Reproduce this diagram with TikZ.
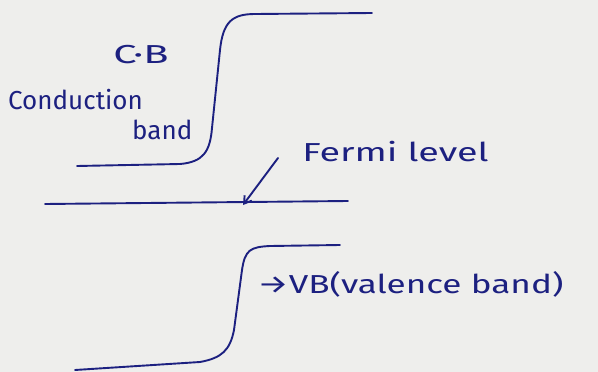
\documentclass[tikz,border=0pt]{standalone}
\usepackage{fontspec}
\setmainfont{Fira Sans}
\usetikzlibrary{arrows.meta}
\definecolor{ink}{RGB}{28,32,128}
\definecolor{paper}{RGB}{238,238,236}
\begin{document}
\begin{tikzpicture}[x=1pt,y=-1pt,
  band/.style={draw=ink,line width=1.9pt,line cap=round},
  lbl/.style={text=ink,inner sep=0pt,font=\fontsize{26}{28}\selectfont}]
\fill[paper] (0,0) rectangle (598,372);
\useasboundingbox (0,0) rectangle (598,372);
% conduction band edge
\draw[band] (77,166) -- (180,164) .. controls (203,162) and (210,152) .. (212,128)
  -- (220,50) .. controls (223,22) and (232,14) .. (255,14) -- (372,13);
% Fermi level
\coordinate (fL) at (45,204);
\coordinate (fR) at (348,201);
\draw[band] (fL) -- (fR);
% valence band edge
\draw[band] (75,370) -- (200,362) .. controls (222,358) and (230,350) .. (234,330)
  -- (242,270) .. controls (245,250) and (250,247) .. (270,246) -- (340,245);
% labels
\node[lbl,anchor=west,xscale=1.6] (cb) at (113,55) {C·B};
\node[lbl,anchor=west,xscale=1.0] (cond) at (8,100) {Conduction};
\node[lbl,anchor=west,xscale=1.0] (bnd) at (132,130) {band};
\node[lbl,anchor=west,xscale=1.45] (fermi) at (302,152) {Fermi level};
\node[lbl,anchor=west,xscale=1.35] (vb) at (257,284) {→VB(valence band)};
\coordinate (arrS) at (278,158);
\coordinate (arrE) at (243,205);
\draw[band,-{Straight Barb[length=7pt,width=9pt]}] (arrS) -- (arrE);
\end{tikzpicture}
\end{document}
